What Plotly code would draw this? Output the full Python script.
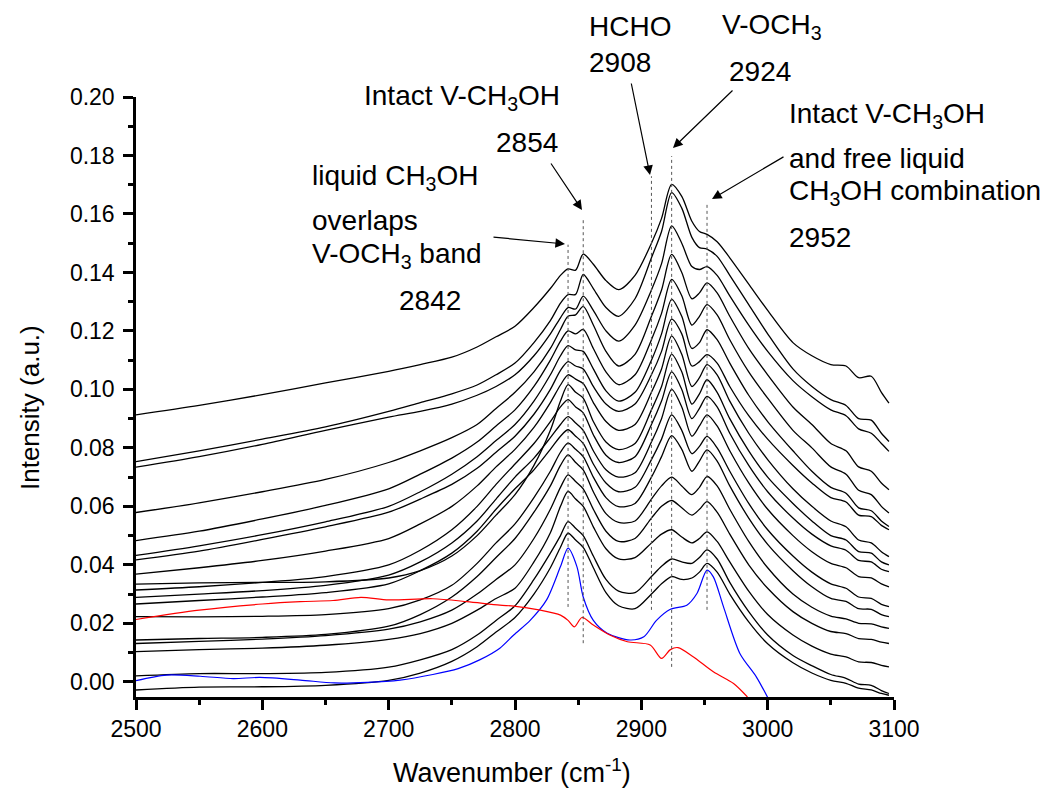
import plotly.graph_objects as go

# ---------------- data ----------------
wavenumber = [2500, 2550, 2600, 2650, 2700, 2725, 2750, 2770, 2785, 2800, 2815, 2828, 2836, 2842, 2848,
              2854, 2862, 2872, 2882, 2895, 2908, 2916, 2924, 2932, 2940, 2946, 2952, 2960, 2970, 2985,
              3000, 3020, 3035, 3050, 3062, 3072, 3082, 3090, 3096]

spec_01 = [.0913, .0945, .0982, .1022, .1062, .1085, .1110, .1145, .1180, .1216, .1280, .1345, .1390, .1412, .1408,
           .1463, .1428, .1372, .1341, .1390, .1500, .1585, .1701, .1660, .1575, .1540, .1530, .1505, .1450, .1360,
           .1270, .1160, .1115, .1085, .1080, .1040, .1045, .0990, .0953]
spec_02 = [.0753, .0790, .0830, .0872, .0925, .0955, .0985, .1015, .1050, .1090, .1160, .1235, .1295, .1324, .1325,
           .1393, .1345, .1280, .1250, .1310, .1450, .1540, .1673, .1620, .1520, .1485, .1480, .1455, .1390, .1290,
           .1190, .1070, .1010, .0965, .0945, .0900, .0895, .0850, .0822]
spec_03 = [.0734, .0770, .0812, .0860, .0905, .0925, .0950, .0980, .1010, .1050, .1115, .1190, .1245, .1280, .1275,
           .1319, .1270, .1200, .1165, .1220, .1340, .1430, .1559, .1500, .1420, .1410, .1420, .1390, .1320, .1220,
           .1130, .1030, .0975, .0930, .0910, .0865, .0850, .0815, .0788]
spec_04 = [.0579, .0612, .0650, .0692, .0750, .0790, .0835, .0880, .0935, .0990, .1060, .1140, .1205, .1250, .1255,
           .1284, .1220, .1130, .1080, .1120, .1250, .1340, .1462, .1400, .1310, .1330, .1364, .1330, .1250, .1140,
           .1050, .0940, .0880, .0815, .0790, .0735, .0720, .0680, .0657]
spec_05 = [.0483, .0515, .0557, .0603, .0660, .0710, .0765, .0820, .0875, .0930, .1010, .1100, .1165, .1200, .1190,
           .1205, .1140, .1060, .1016, .1050, .1170, .1260, .1376, .1320, .1220, .1250, .1290, .1255, .1170, .1060,
           .0970, .0860, .0800, .0735, .0710, .0655, .0640, .0600, .0577]
spec_06 = [.0432, .0465, .0503, .0547, .0600, .0650, .0710, .0770, .0825, .0880, .0960, .1050, .1115, .1150, .1135,
           .1130, .1070, .0995, .0960, .0990, .1100, .1190, .1308, .1250, .1140, .1160, .1204, .1170, .1090, .0980,
           .0890, .0790, .0720, .0665, .0645, .0595, .0585, .0550, .0531]
spec_07 = [.0417, .0447, .0487, .0530, .0580, .0625, .0675, .0730, .0785, .0840, .0915, .1000, .1065, .1095, .1080,
           .1070, .1010, .0950, .0925, .0950, .1050, .1130, .1240, .1190, .1080, .1095, .1119, .1090, .1010, .0910,
           .0830, .0740, .0680, .0630, .0615, .0570, .0565, .0535, .0520]
spec_08 = [.0368, .0390, .0415, .0447, .0490, .0540, .0600, .0670, .0735, .0795, .0870, .0955, .1015, .1050, .1035,
           .1020, .0955, .0890, .0860, .0880, .0990, .1070, .1182, .1120, .1010, .1040, .1085, .1050, .0960, .0850,
           .0760, .0660, .0600, .0550, .0530, .0485, .0475, .0445, .0428]
spec_09 = [.0334, .0338, .0340, .0342, .0355, .0380, .0430, .0500, .0570, .0640, .0740, .0860, .0960, .1016, .0990,
           .0970, .0890, .0820, .0794, .0815, .0930, .1010, .1120, .1060, .0950, .0985, .1033, .0990, .0900, .0790,
           .0700, .0610, .0550, .0500, .0485, .0445, .0440, .0410, .0400]
spec_10 = [.0314, .0325, .0340, .0360, .0400, .0450, .0520, .0600, .0675, .0745, .0815, .0890, .0940, .0965, .0940,
           .0920, .0845, .0775, .0750, .0770, .0880, .0960, .1060, .1000, .0900, .0935, .0976, .0940, .0850, .0740,
           .0650, .0560, .0505, .0465, .0450, .0415, .0410, .0385, .0377]
spec_11 = [.0289, .0300, .0312, .0330, .0365, .0410, .0475, .0550, .0625, .0700, .0765, .0835, .0880, .0907, .0885,
           .0860, .0790, .0725, .0700, .0715, .0820, .0900, .1000, .0940, .0840, .0875, .0913, .0875, .0790, .0680,
           .0590, .0500, .0445, .0405, .0390, .0360, .0355, .0335, .0325]
spec_12 = [.0266, .0278, .0290, .0305, .0335, .0380, .0440, .0515, .0590, .0660, .0725, .0795, .0840, .0862, .0840,
           .0815, .0745, .0680, .0650, .0665, .0760, .0830, .0913, .0860, .0780, .0805, .0839, .0800, .0720, .0610,
           .0520, .0430, .0375, .0335, .0320, .0290, .0285, .0265, .0257]
spec_13 = [.0223, .0222, .0224, .0230, .0250, .0280, .0330, .0405, .0475, .0540, .0630, .0720, .0785, .0816, .0795,
           .0770, .0700, .0630, .0599, .0610, .0700, .0770, .0842, .0795, .0720, .0755, .0793, .0755, .0670, .0560,
           .0470, .0380, .0325, .0285, .0275, .0250, .0248, .0230, .0223]
spec_14 = [.0143, .0148, .0152, .0162, .0190, .0230, .0290, .0360, .0425, .0490, .0580, .0670, .0740, .0776, .0750,
           .0725, .0650, .0575, .0545, .0550, .0625, .0670, .0700, .0670, .0640, .0665, .0702, .0670, .0590, .0480,
           .0390, .0300, .0255, .0225, .0215, .0200, .0198, .0188, .0183]
spec_15 = [.0131, .0138, .0146, .0158, .0180, .0205, .0245, .0300, .0350, .0400, .0490, .0590, .0665, .0708, .0685,
           .0660, .0590, .0515, .0480, .0490, .0560, .0600, .0620, .0595, .0570, .0590, .0616, .0580, .0505, .0400,
           .0320, .0240, .0200, .0172, .0165, .0148, .0145, .0136, .0131]
spec_16 = [.0103, .0110, .0115, .0125, .0145, .0165, .0200, .0245, .0285, .0320, .0410, .0510, .0600, .0651, .0625,
           .0600, .0530, .0455, .0420, .0425, .0475, .0505, .0520, .0495, .0475, .0490, .0513, .0480, .0410, .0310,
           .0230, .0160, .0122, .0095, .0085, .0068, .0066, .0056, .0051]
spec_17 = [.0020, .0028, .0028, .0032, .0050, .0075, .0110, .0160, .0210, .0260, .0350, .0440, .0500, .0548, .0525,
           .0500, .0430, .0350, .0310, .0305, .0360, .0395, .0420, .0410, .0405, .0425, .0451, .0420, .0340, .0240,
           .0160, .0090, .0055, .0025, .0012, -.0008, -.0012, -.0030, -.0040]
spec_18 = [-.0028, -.0018, -.0017, -.0012, .0005, .0030, .0070, .0120, .0170, .0220, .0300, .0390, .0460, .0508, .0485,
           .0460, .0390, .0305, .0260, .0250, .0300, .0335, .0360, .0350, .0355, .0375, .0405, .0375, .0300, .0205,
           .0130, .0065, .0030, .0005, -.0005, -.0022, -.0028, -.0040, -.0046]

black_spectra = [spec_01, spec_02, spec_03, spec_04, spec_05, spec_06, spec_07, spec_08, spec_09,
                 spec_10, spec_11, spec_12, spec_13, spec_14, spec_15, spec_16, spec_17, spec_18]

blue_x = [2500, 2524, 2551, 2577, 2598, 2630, 2657, 2683, 2709, 2735, 2755, 2772, 2788, 2799, 2812, 2825,
          2836, 2842, 2849, 2854, 2862, 2873, 2891, 2902, 2912, 2923, 2936, 2944, 2952, 2957, 2965, 2978,
          2991, 3002]
blue_y = [.0004, .0023, .0019, .0011, .0015, .0006, -.0004, -.0002, .0006, .0025, .0045, .0075, .0115, .0160,
          .0210, .0280, .0394, .0457, .0394, .0290, .0210, .0166, .0143, .0154, .0210, .0248, .0262, .0302,
          .0382, .0359, .0257, .0097, .0017, -.0070]

red_x = [2500, 2550, 2600, 2630, 2656, 2678, 2700, 2735, 2762, 2788, 2799, 2820, 2836, 2842, 2847, 2853,
         2862, 2875, 2889, 2907, 2916, 2923, 2929, 2941, 2957, 2973, 2984]
red_y = [.0213, .0245, .0266, .0274, .0278, .0289, .0280, .0284, .0274, .0262, .0259, .0245, .0228, .0210,
         .0188, .0220, .0194, .0160, .0137, .0126, .0080, .0110, .0117, .0086, .0034, -.0006, -.0052]

band_positions = [2842, 2854, 2908, 2924, 2952]
band_tops = [.1495, .1587, .1729, .1798, .1638]
band_bottoms = [.0256, .0132, .0246, .0051, .0246]

# ---------------- figure ----------------
FONT = "Liberation Sans, Arial, sans-serif"
W, H = 1048, 788
ML, MR, MT, MB = 136, 154, 97, 91
PW, PH = W - ML - MR, H - MT - MB
X0, X1 = 2500, 3100
Y0, Y1 = -0.0052, 0.200


def xp(px):  # pixel -> paper
    return (px - ML) / PW


def yp(py):
    return (H - MB - py) / PH


fig = go.Figure()
for spec in black_spectra:
    fig.add_trace(go.Scatter(x=wavenumber, y=spec, mode="lines",
                             line=dict(color="black", width=1.3, shape="spline", smoothing=0.8),
                             showlegend=False, hoverinfo="skip"))
fig.add_trace(go.Scatter(x=blue_x, y=blue_y, mode="lines",
                         line=dict(color="#0000ff", width=1.2, shape="spline", smoothing=0.8),
                         showlegend=False, hoverinfo="skip"))
fig.add_trace(go.Scatter(x=red_x, y=red_y, mode="lines",
                         line=dict(color="#ff0000", width=1.2, shape="spline", smoothing=0.8),
                         showlegend=False, hoverinfo="skip"))

for xb, yt, yb in zip(band_positions, band_tops, band_bottoms):
    fig.add_shape(type="line", xref="x", yref="y", x0=xb, x1=xb, y0=yb, y1=yt,
                  line=dict(color="#555555", width=1, dash="dot"))

# text labels: (text, px, baseline py, anchor)
labels = [
    ("liquid CH<sub>3</sub>OH", 310, 187, "left"),
    ("overlaps", 310, 230, "left"),
    ("V-OCH<sub>3</sub> band", 310, 265, "left"),
    ("2842", 397, 310, "left"),
    ("Intact V-CH<sub>3</sub>OH", 562, 107, "right"),
    ("2854", 560, 152, "right"),
    ("HCHO", 587, 36, "left"),
    ("2908", 587, 72, "left"),
    ("V-OCH<sub>3</sub>", 720, 36, "left"),
    ("2924", 727, 81, "left"),
    ("Intact V-CH<sub>3</sub>OH", 787, 125, "left"),
    ("and free liquid", 787, 168, "left"),
    ("CH<sub>3</sub>OH combination", 787, 202, "left"),
    ("2952", 787, 247, "left"),
]
FS = 28
for txt, px, py, anc in labels:
    fig.add_annotation(x=xp(px), y=yp(py - 0.35 * FS), xref="paper", yref="paper", text=txt,
                       showarrow=False, xanchor=anc, yanchor="middle",
                       font=dict(family=FONT, size=FS, color="black"))

# arrows: (tail px, tail py, head px, head py)
arrows = [
    (492, 237, 565, 244),
    (550, 162, 582, 210),
    (631, 82, 650, 175),
    (734, 89, 673, 148),
    (785, 156, 712, 199),
]
for tx, ty, hx, hy in arrows:
    fig.add_annotation(x=xp(hx), y=yp(hy), ax=tx - hx, ay=ty - hy,
                       xref="paper", yref="paper", text="",
                       showarrow=True, arrowhead=2, arrowsize=1.6, arrowwidth=1.2,
                       arrowcolor="black", standoff=0)

# axis titles
fig.add_annotation(x=xp(512), y=yp(771), xref="paper", yref="paper", text="Wavenumber (cm<sup>-1</sup>)",
                   showarrow=False, xanchor="center", yanchor="middle",
                   font=dict(family=FONT, size=27, color="black"))
fig.add_annotation(x=xp(30), y=yp(408), xref="paper", yref="paper", text="Intensity (a.u.)",
                   showarrow=False, textangle=-90, xanchor="center", yanchor="middle",
                   font=dict(family=FONT, size=26, color="black"))

axis_common = dict(showgrid=False, zeroline=False, showline=True, linecolor="black", linewidth=2.5,
                   ticks="outside", ticklen=10, tickwidth=2.5, tickcolor="black",
                   tickfont=dict(family=FONT, size=23, color="black"), mirror=False)

fig.update_xaxes(range=[X0, X1], tick0=2500, dtick=100,
                 minor=dict(dtick=50, ticks="outside", ticklen=5, tickwidth=2.5, tickcolor="black"),
                 **axis_common)
fig.update_yaxes(range=[Y0, Y1], tick0=0, dtick=0.02, tickformat=".2f", ticklabelstandoff=4,
                 minor=dict(dtick=0.01, ticks="outside", ticklen=5, tickwidth=2.5, tickcolor="black"),
                 **axis_common)

fig.update_layout(width=W, height=H, margin=dict(l=ML, r=MR, t=MT, b=MB, pad=0),
                  paper_bgcolor="white", plot_bgcolor="white", showlegend=False,
                  font=dict(family=FONT, color="black"))

fig.write_html("out.html")
